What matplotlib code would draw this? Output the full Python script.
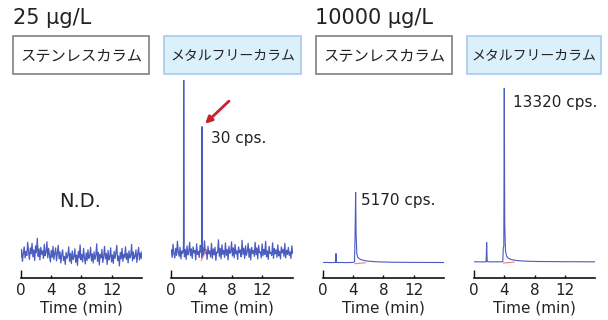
import matplotlib
matplotlib.use("Agg")
import matplotlib.pyplot as plt
import numpy as np
from matplotlib.patches import Rectangle

# concentration headers and column labels
conc_labels = ["25 μg/L", "10000 μg/L"]
column_labels = ["ステンレスカラム", "メタルフリーカラム", "ステンレスカラム", "メタルフリーカラム"]
time_ticks = [0, 4, 8, 12]

# 25 ug/L, stainless column: baseline noise only (cps), evenly spaced over 0-16 min
noise_sus = [4.0, 5.6, 3.2, 4.8, 6.1, 3.9, 5.2, 4.4, 7.0, 5.1, 3.6, 5.9, 4.7, 6.8, 4.1,
             5.5, 3.4, 6.3, 4.9, 7.8, 4.2, 5.7, 3.5, 6.0, 4.6, 5.3, 3.8, 6.6, 4.3, 5.0,
             7.1, 3.9, 5.8, 4.5, 3.1, 5.4, 4.0, 6.2, 3.6, 4.7, 5.9, 3.3, 4.9, 6.4, 3.7,
             5.1, 2.9, 4.6, 5.5, 3.4, 4.2, 2.6, 5.0, 3.8, 4.4, 6.1, 3.2, 4.8, 2.8, 5.3,
             3.6, 4.1, 5.7, 3.0, 4.5, 2.4, 5.2, 3.9, 6.5, 3.5, 4.6, 3.1, 5.8, 4.0, 2.7,
             4.9, 3.4, 5.5, 3.8, 4.3, 6.0, 3.3, 4.7, 2.9, 5.1, 3.6, 4.4, 6.7, 3.2, 5.0,
             2.5, 4.6, 3.9, 5.6, 3.0, 4.2, 6.2, 3.7, 4.8, 2.6, 5.4, 3.5, 4.1, 5.9, 3.1,
             4.5, 2.8, 5.2, 3.8, 4.9, 6.4, 3.4, 4.3, 2.3, 5.0, 3.7, 5.8, 3.2, 4.6, 4.0,
             6.1, 3.6, 4.8, 2.9, 5.3, 3.9, 4.4, 6.6, 3.3, 5.1, 3.7, 4.2, 5.5, 3.0, 4.7,
             6.0, 3.5, 4.9, 3.8, 5.2]

# 25 ug/L, metal-free column: baseline noise plus two sharp peaks
noise_mf = [5.5, 4.0, 6.6, 4.7, 3.9, 5.8, 4.4, 7.2, 5.0, 4.2, 6.0, 3.7, 5.3, 4.8, 6.9,
            4.1, 5.6, 3.6, 6.3, 4.5, 5.1, 7.0, 4.3, 5.7, 3.8, 6.1, 4.9, 5.4, 3.5, 6.7,
            4.6, 5.2, 4.0, 6.4, 5.0, 3.9, 5.9, 4.4, 7.3, 4.8, 5.5, 3.6, 6.2, 4.7, 5.3,
            4.1, 6.8, 3.8, 5.7, 4.5, 6.0, 3.4, 5.1, 4.9, 7.5, 4.2, 5.8, 3.7, 6.5, 4.6,
            5.4, 4.0, 6.9, 4.4, 5.6, 3.5, 6.2, 4.8, 5.0, 7.1, 4.3, 5.9, 3.9, 6.6, 4.7,
            5.3, 3.6, 6.1, 4.9, 5.5, 4.1, 7.4, 4.6, 5.8, 3.8, 6.3, 4.4, 5.2, 6.8, 4.0,
            5.7, 3.5, 6.0, 4.8, 5.4, 4.2, 7.0, 4.5, 5.9, 3.7, 6.4, 4.9, 5.1, 3.9, 6.7,
            4.3, 5.6, 4.6, 7.2, 4.1, 5.3, 3.6, 6.2, 4.8, 5.0, 4.4, 6.9, 3.8, 5.8, 4.7,
            5.5, 4.0, 6.5, 4.3, 5.2, 3.7, 6.1, 4.9, 5.6, 4.2, 6.8, 3.9, 5.4, 4.6, 6.0,
            4.4, 5.1, 3.8, 6.3, 4.8]
peak_mf_time = [1.58, 1.63, 1.68, 3.97, 4.04, 4.10]
peak_mf_value = [5.5, 48.0, 6.0, 6.5, 30.0, 6.0]

# 10000 ug/L, stainless column
sus_hi_time = [0, 0.5, 1.0, 1.5, 1.68, 1.75, 1.82, 2.0, 2.5, 3.0, 3.5, 4.0, 4.2, 4.28,
               4.34, 4.4, 4.5, 4.65, 4.85, 5.1, 5.5, 6.0, 7.0, 8.0, 9.0, 10.0, 11.0,
               12.0, 13.0, 14.0, 15.0, 16.0]
sus_hi_value = [60, 70, 55, 65, 60, 710, 70, 60, 65, 55, 60, 70, 120, 2600, 5170, 2200,
                700, 420, 330, 260, 200, 160, 120, 100, 85, 80, 75, 70, 70, 65, 65, 60]

# 10000 ug/L, metal-free column
mf_hi_time = [0, 0.5, 1.0, 1.5, 1.6, 1.67, 1.74, 2.0, 2.5, 3.0, 3.5, 3.8, 3.86, 3.93,
              3.99, 4.05, 4.15, 4.3, 4.5, 4.8, 5.2, 5.8, 6.5, 7.5, 8.5, 10.0, 11.0,
              12.0, 13.0, 14.0, 15.0, 16.0]
mf_hi_value = [60, 65, 55, 60, 70, 1530, 80, 60, 55, 65, 60, 80, 1150, 1250, 13320,
               3000, 900, 500, 350, 260, 200, 150, 120, 100, 85, 80, 75, 70, 70, 65,
               60, 60]

peak_labels = [None, "30 cps.", "5170 cps.", "13320 cps."]
peak_label_pos = [None, (5.2, 27.6), (5.05, 4570), (5.15, 12200)]
# integration baselines under the main peak
base_time = [None, [3.95, 4.6], [4.25, 5.6], [3.9, 5.3]]
base_value = [None, [3.4, 5.4], [-20, 40], [-30, 40]]

ylims = [(0, 39.3), (0, 39.3), (-1030, 13363), (-1136, 13953)]
left_px = [20.7, 171.3, 322.7, 474.0]
box_px = [(13, 149), (164, 301), (316, 452), (467, 601)]

W, H = 608, 320
fig = plt.figure(figsize=(W / 100, H / 100), dpi=100)

line_color = "#4a5cc0"
text_color = "#222222"

t_even = np.linspace(0, 16, len(noise_sus))
t_mf = np.concatenate([np.linspace(0, 16, len(noise_mf)), peak_mf_time])
v_mf = np.concatenate([noise_mf, peak_mf_value])
order = np.argsort(t_mf)
traces = [
    (t_even, np.array(noise_sus)),
    (t_mf[order], v_mf[order]),
    (np.array(sus_hi_time), np.array(sus_hi_value)),
    (np.array(mf_hi_time), np.array(mf_hi_value)),
]

ax_w = 121.4 / W
ax_b = (H - 277.5) / H
ax_h = 197.5 / H

for i in range(4):
    ax = fig.add_axes([left_px[i] / W, ax_b, ax_w, ax_h])
    t, v = traces[i]
    lw = 0.9 if i < 2 else 0.8
    ax.plot(t, v, color=line_color, lw=lw)
    if base_time[i] is not None:
        ax.plot(base_time[i], base_value[i], color="#ef7f86", lw=0.8)
    ax.set_xlim(0, 16)
    ax.set_ylim(*ylims[i])
    for s in ["top", "right", "left"]:
        ax.spines[s].set_visible(False)
    ax.spines["bottom"].set_linewidth(1.2)
    ax.spines["bottom"].set_color("#111111")
    ax.set_yticks([])
    ax.set_xticks(time_ticks)
    ax.tick_params(axis="x", direction="in", length=2.5, width=1, pad=4,
                   labelsize=11, colors="#111111", labelcolor=text_color)
    ax.xaxis.get_major_ticks()[0].tick1line.set_markersize(6)
    ax.set_xlabel("Time (min)", fontsize=11, color=text_color, labelpad=2)
    if peak_labels[i]:
        x, y = peak_label_pos[i]
        ax.text(x, y, peak_labels[i], fontsize=11, color=text_color,
                ha="left", va="center")
    if i == 0:
        ax.text(7.8, 15.1, "N.D.", fontsize=14, color=text_color,
                ha="center", va="center")
    if i == 1:
        ax.annotate("", xy=(4.45, 30.6), xytext=(7.6, 35.1),
                    arrowprops=dict(arrowstyle="-|>", color="#c8232c", lw=2,
                                    mutation_scale=10, shrinkA=0, shrinkB=0))

# concentration headers
fig.text(13 / W, 1 - 17.5 / H, conc_labels[0], fontsize=15, color=text_color,
         ha="left", va="center")
fig.text(315 / W, 1 - 17.5 / H, conc_labels[1], fontsize=15, color=text_color,
         ha="left", va="center")

# column label boxes
for i, (x0, x1) in enumerate(box_px):
    metal_free = i % 2 == 1
    rect = Rectangle((x0 / W, 1 - 74 / H), (x1 - x0) / W, 38 / H,
                     transform=fig.transFigure,
                     facecolor="#dcf0fb" if metal_free else "white",
                     edgecolor="#a6cbec" if metal_free else "#808080",
                     lw=1.2)
    fig.add_artist(rect)
    fig.text((x0 + x1) / 2 / W, 1 - 55.5 / H, column_labels[i],
             family=["Noto Sans CJK JP", "DejaVu Sans"],
             fontsize=10 if metal_free else 11, color=text_color,
             ha="center", va="center")

fig.savefig("out.png", dpi=100)
